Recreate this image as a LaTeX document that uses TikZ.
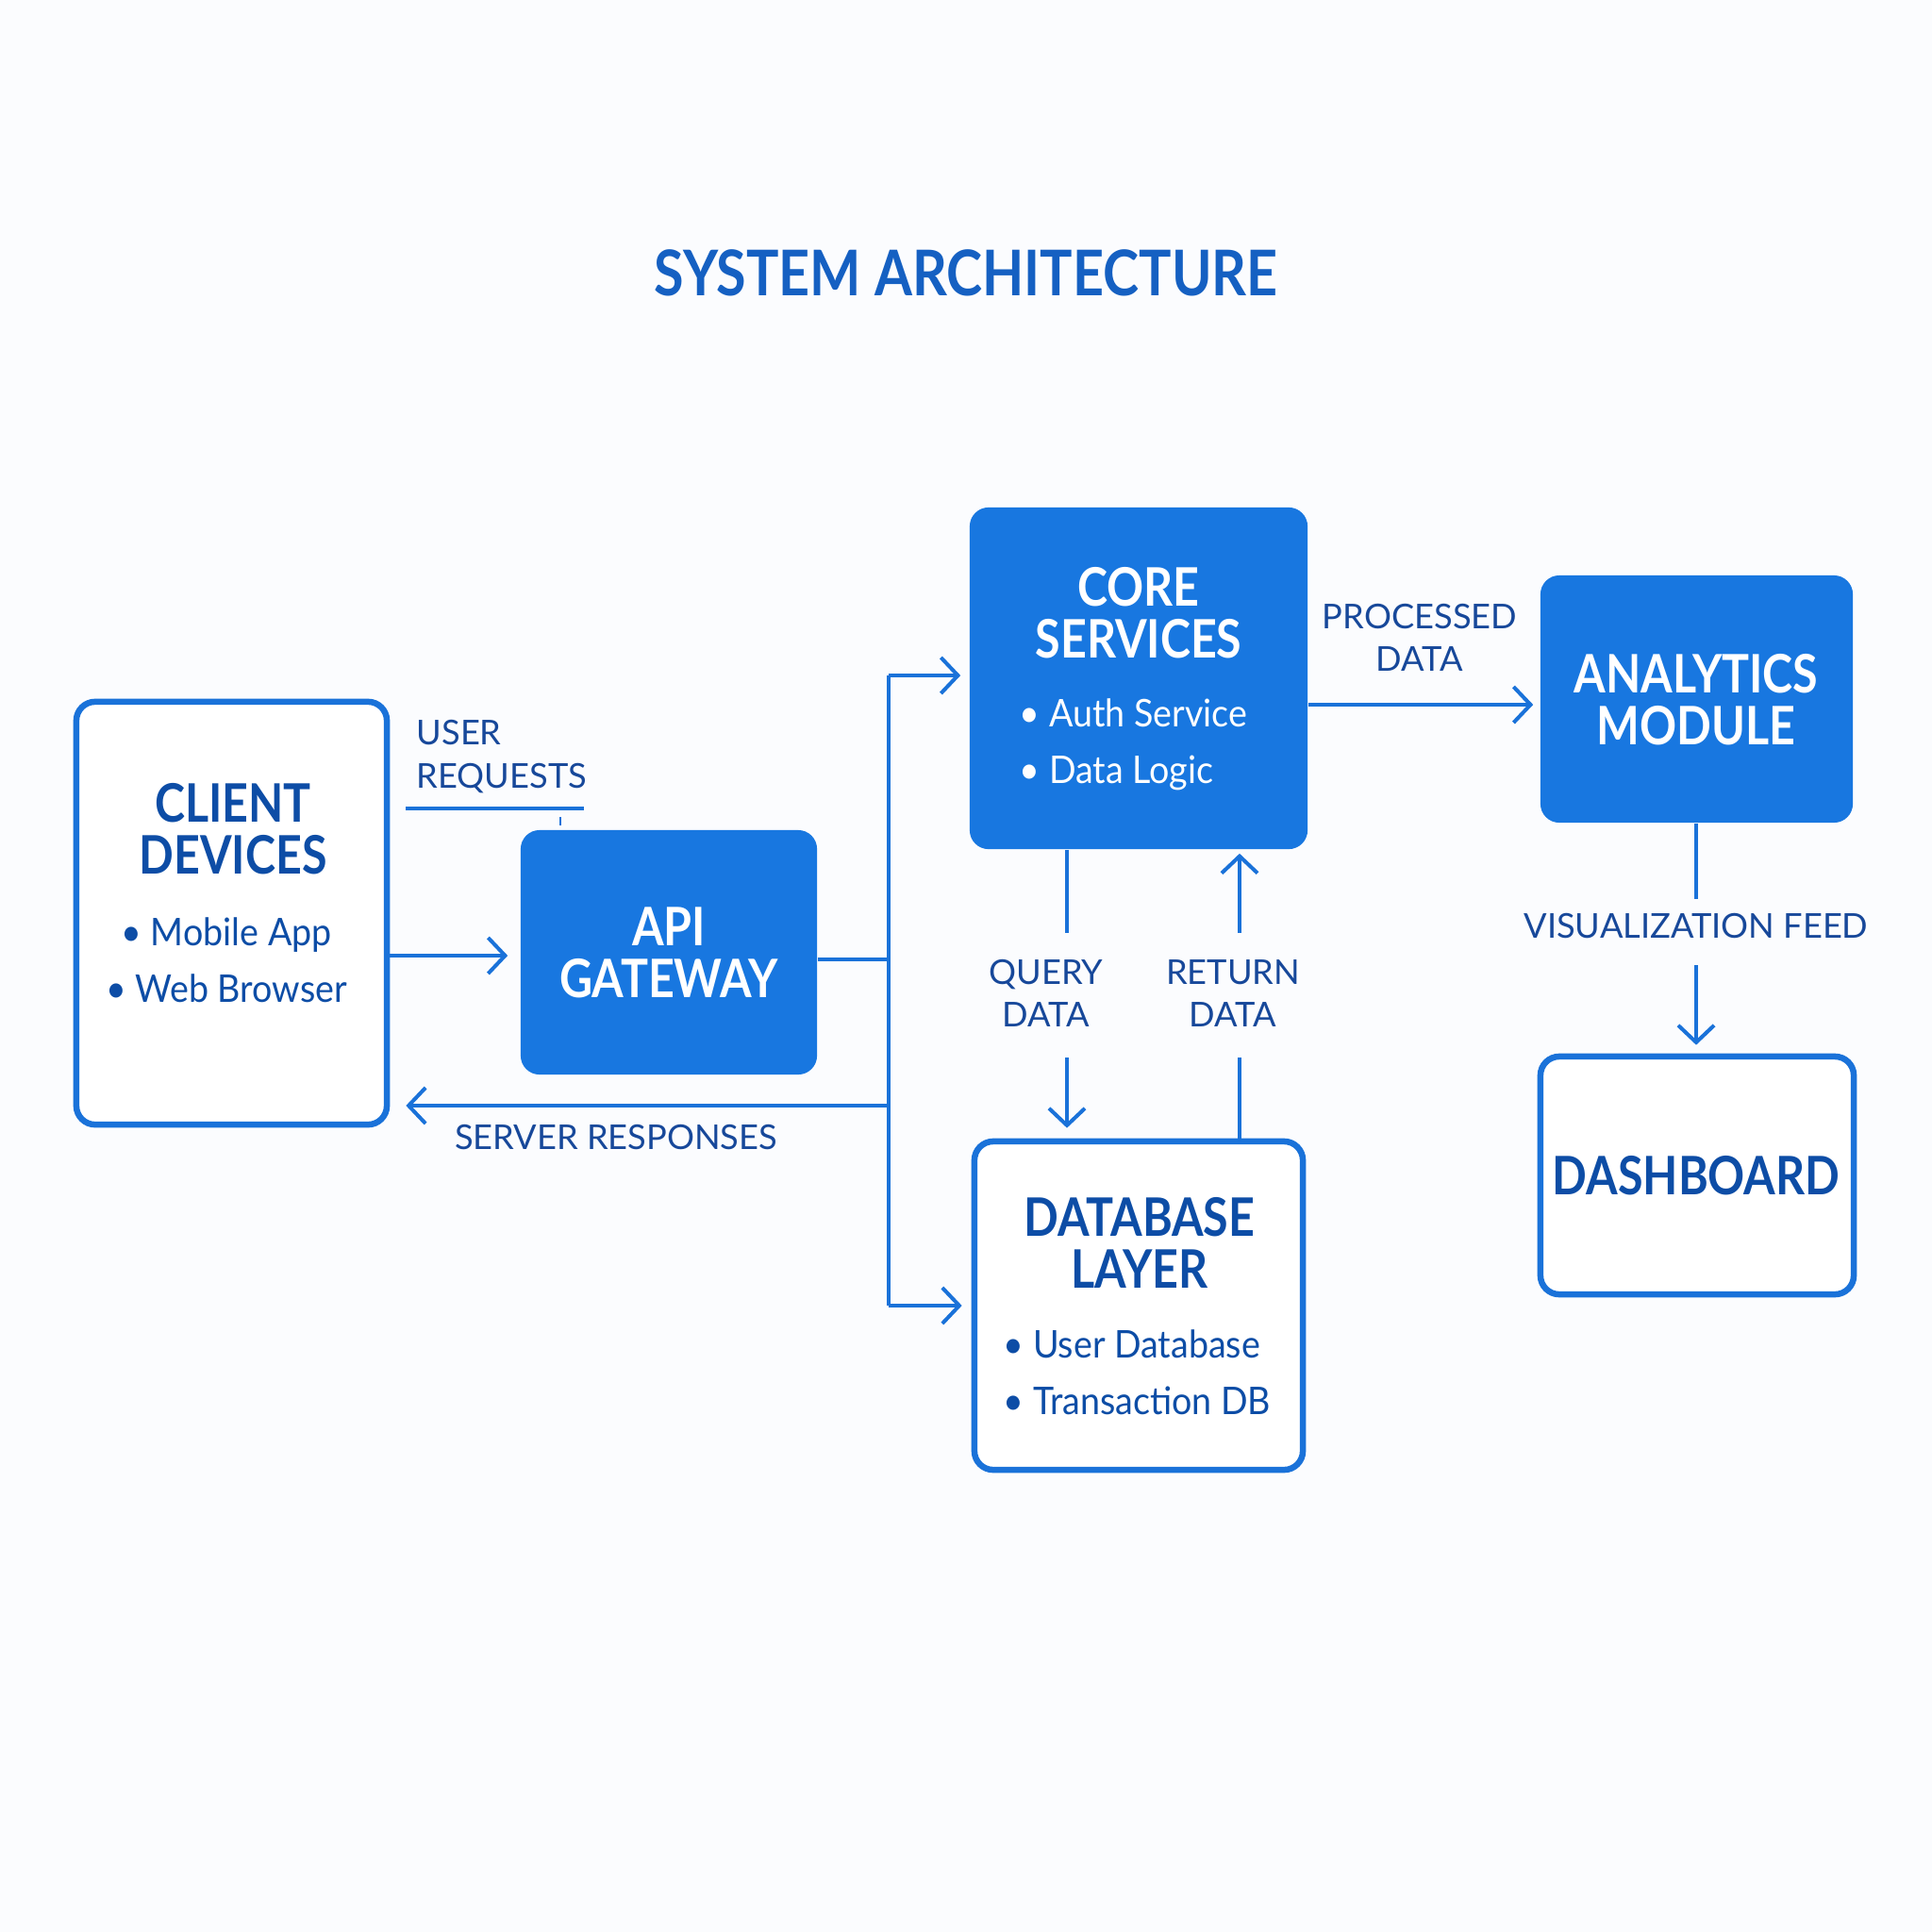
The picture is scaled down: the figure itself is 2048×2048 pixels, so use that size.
\documentclass[tikz,border=0pt]{standalone}
\usepackage{fontspec}
\setmainfont{Lato}
\newfontfamily\condfont[FakeStretch=0.86]{Lato}
\newfontfamily\bulletfont[FakeStretch=0.93]{Lato}
\usetikzlibrary{arrows.meta}
\definecolor{bg}{HTML}{FBFCFE}
\definecolor{boxblue}{HTML}{1877E0}
\definecolor{edgeblue}{HTML}{1A72D9}
\definecolor{darkblue}{HTML}{0D4DA6}
\definecolor{labelblue}{HTML}{17489A}
\definecolor{titleblue}{HTML}{1560C2}
\begin{document}
\begin{tikzpicture}[x=0.01cm,y=-0.01cm,
  filledbox/.style={rectangle, rounded corners=0.2cm, fill=boxblue, draw=none, inner sep=0pt},
  outlinebox/.style={rectangle, rounded corners=0.2cm, draw=edgeblue, line width=0.065cm, fill=white, inner sep=0pt},
  titletext/.style={font=\condfont\fontsize{19}{22}\selectfont\bfseries, text=titleblue},
  boxtitle/.style={font=\condfont\fontsize{16}{15.6}\selectfont\bfseries, align=center, inner sep=0pt},
  bullets/.style={font=\bulletfont\fontsize{11.5}{17}\selectfont, inner sep=0pt},
  lbl/.style={font=\fontsize{10.3}{13}\selectfont, text=labelblue, align=center, inner sep=0pt},
  conn/.style={draw=edgeblue, line width=0.04cm},
  arr/.style={conn, -{Straight Barb[length=0.18cm, width=0.38cm, line width=0.04cm]}}
]
\fill[bg] (0,0) rectangle (2048,2048);
\useasboundingbox (0,0) rectangle (2048,2048);

% title
\node[titletext] (title) at (1024,289) {SYSTEM ARCHITECTURE};

% boxes
\node[outlinebox, minimum width=3.29cm, minimum height=4.48cm] (client) at (245.5,968) {};
\node[filledbox, minimum width=3.14cm, minimum height=2.59cm] (api) at (709,1009.5) {};
\node[filledbox, minimum width=3.58cm, minimum height=3.62cm] (core) at (1207,719) {};
\node[filledbox, minimum width=3.31cm, minimum height=2.62cm] (analytics) at (1798.5,741) {};
\node[outlinebox, minimum width=3.32cm, minimum height=2.52cm] (dash) at (1799,1246) {};
\node[outlinebox, minimum width=3.48cm, minimum height=3.48cm] (db) at (1207,1384) {};

% box texts
\node[boxtitle, text=darkblue] (clientT) at (247,879) {CLIENT\\DEVICES};
\node[bullets, text=darkblue, align=center] (clientB) at (240,1018) {• Mobile App\\• Web Browser};
\node[boxtitle, text=white] (apiT) at (709,1010) {API\\GATEWAY};
\node[boxtitle, text=white] (coreT) at (1207,650) {CORE\\SERVICES};
\node[bullets, text=white, align=left, anchor=west] (coreB) at (1080,789) {• Auth Service\\• Data Logic};
\node[boxtitle, text=white] (anaT) at (1798,742) {ANALYTICS\\MODULE};
\node[boxtitle, text=darkblue] (dashT) at (1798,1246) {DASHBOARD};
\node[boxtitle, text=darkblue] (dbT) at (1208,1317) {DATABASE\\LAYER};
\node[bullets, text=darkblue, align=left, anchor=west] (dbB) at (1063,1455) {• User Database\\• Transaction DB};

% bus coordinates
\coordinate (busTop) at (942,716);
\coordinate (busBot) at (942,1384);
\coordinate (busMid) at (942,1017);
\coordinate (busResp) at (942,1172);
\coordinate (reqY) at (0,1013);

% client -> api
\draw[arr, shorten >=0.13cm] (client.east |- reqY) -- (api.west |- reqY);
% user requests label and underline
\node[lbl, align=left, anchor=west] (reqL) at (441,802) {USER\\REQUESTS};
\coordinate (ulA) at (430,857);
\coordinate (ulB) at (619,857);
\draw[conn] (ulA) -- (ulB);
\coordinate (tkA) at (594,866);
\coordinate (tkB) at (594,875);
\draw[draw=edgeblue, line width=0.015cm] (tkA) -- (tkB);

% api -> bus
\draw[conn] (api.east |- busMid) -- (busMid);
\draw[conn] (busTop) -- (busBot);
\draw[arr, shorten >=0.09cm] (busTop) -- (core.west |- busTop);
\draw[arr, shorten >=0.10cm] (busBot) -- (db.west |- busBot);
\draw[arr, shorten >=0.17cm] (busResp) -- (client.east |- busResp);
\node[lbl] (respL) at (653,1206) {SERVER RESPONSES};

% core -> analytics
\coordinate (procY) at (0,747);
\draw[arr, shorten >=0.07cm] (core.east |- procY) -- (analytics.west |- procY);
\node[lbl] (procL) at (1505,676) {PROCESSED\\DATA};

% query data
\coordinate (qx) at (1131,0);
\coordinate (q1) at (1131,989);
\coordinate (q2) at (1131,1121);
\draw[conn] (core.south -| qx) -- (q1);
\draw[arr, shorten >=0.11cm] (q2) -- (db.north -| qx);
\node[lbl] (qL) at (1109,1053) {QUERY\\DATA};

% return data
\coordinate (rx) at (1314,0);
\coordinate (r1) at (1314,989);
\coordinate (r2) at (1314,1121);
\draw[conn] (db.north -| rx) -- (r2);
\draw[arr, shorten >=0.04cm] (r1) -- (core.south -| rx);
\node[lbl] (rL) at (1307,1053) {RETURN\\DATA};

% analytics -> dashboard
\coordinate (v1) at (1798,953);
\coordinate (v2) at (1798,1023);
\draw[conn] (analytics.south -| v1) -- (v1);
\draw[arr, shorten >=0.09cm] (v2) -- (dash.north -| v2);
\node[lbl] (vL) at (1798,982) {VISUALIZATION FEED};
\end{tikzpicture}
\end{document}
